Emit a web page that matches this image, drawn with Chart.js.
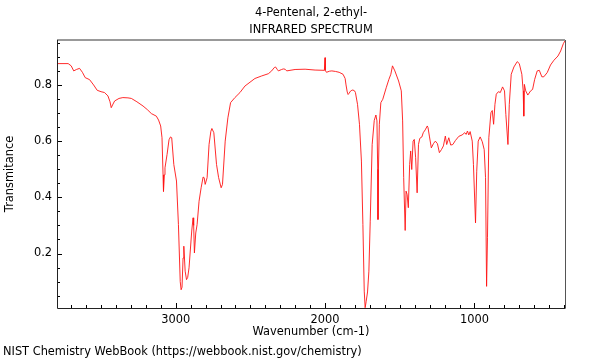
<!DOCTYPE html>
<html>
<head>
<meta charset="utf-8">
<script src="https://cdn.jsdelivr.net/npm/chart.js@4/dist/chart.umd.min.js"></script>
<style>
html,body{margin:0;padding:0;background:#fff;}
#c{display:block;}
</style>
</head>
<body>
<canvas id="c" width="600" height="360"></canvas>
<script>
const titleLines = ["4-Pentenal, 2-ethyl-", "INFRARED SPECTRUM"];
const xTitle = "Wavenumber (cm-1)";
const yTitle = "Transmitance";
const credit = "NIST Chemistry WebBook (https://webbook.nist.gov/chemistry)";
const xTickValues = [1000, 2000, 3000];
const yTickValues = [0.2, 0.4, 0.6, 0.8];

const wavenumbers = [
3795,3720,3700,3683,3665,3644,3625,3606,3577,3550,3526,3500,3477,3454,3440,3432,3420,3409,3380,3354,
3320,3297,3260,3219,3190,3163,3130,3115,3101,3092,3085,3082,3076,3072,3058,3045,3035,3027,3013,2995,
2982,2970,2964,2958,2951,2946,2937,2928,2920,2911,2893,2884,2880,2875,2866,2857,2844,2830,2817,2810,
2803,2790,2777,2765,2758,2745,2727,2713,2696,2687,2669,2651,2633,2604,2570,2537,2470,2425,2380,2358,
2340,2332,2320,2313,2291,2280,2268,2257,2201,2134,2067,2005,2001,2000,1999,1991,1970,1955,1930,1906,
1880,1866,1860,1852,1846,1840,1830,1821,1814,1803,1797,1783,1770,1757,1747,1738,1732,1725,1716,1707,
1698,1685,1671,1660,1653,1648,1646,1643,1637,1627,1614,1591,1573,1560,1549,1533,1508,1490,1481,1474,
1464,1458,1451,1443,1434,1427,1420,1411,1403,1394,1384,1375,1366,1352,1343,1330,1316,1311,1302,1289,
1275,1262,1248,1235,1221,1208,1195,1186,1172,1159,1145,1128,1105,1083,1065,1056,1047,1038,1029,1015,
1007,993,985,975,962,948,935,926,919,913,904,890,881,872,863,854,840,827,812,799,
790,776,767,754,736,714,700,683,674,670,666,657,643,624,611,597,580,566,549,536,
513,491,468,441,423,405,394
];
const transmittance = [
0.876,0.876,0.868,0.850,0.855,0.859,0.845,0.826,0.819,0.800,0.781,0.776,0.773,0.761,0.740,0.719,0.732,0.743,0.752,0.755,
0.754,0.752,0.740,0.725,0.712,0.698,0.689,0.675,0.654,0.612,0.480,0.421,0.480,0.505,0.553,0.605,0.615,0.612,0.517,0.458,
0.303,0.100,0.071,0.080,0.184,0.226,0.137,0.107,0.115,0.149,0.280,0.327,0.300,0.202,0.273,0.303,0.386,0.434,0.472,0.470,
0.446,0.470,0.588,0.635,0.645,0.630,0.517,0.470,0.434,0.446,0.600,0.683,0.737,0.755,0.773,0.796,0.823,0.832,0.840,0.850,
0.862,0.864,0.855,0.850,0.855,0.857,0.856,0.850,0.855,0.856,0.853,0.852,0.852,0.897,0.852,0.845,0.849,0.850,0.848,0.845,
0.838,0.823,0.800,0.775,0.766,0.770,0.778,0.781,0.782,0.779,0.773,0.731,0.660,0.529,0.303,0.066,0.007,0.030,0.063,0.137,
0.315,0.588,0.674,0.693,0.672,0.500,0.321,0.500,0.660,0.737,0.749,0.790,0.820,0.838,0.868,0.850,0.814,0.779,0.672,0.470,
0.282,0.422,0.410,0.363,0.517,0.565,0.499,0.600,0.606,0.541,0.416,0.588,0.610,0.615,0.630,0.640,0.654,0.648,0.618,0.576,
0.591,0.600,0.591,0.559,0.570,0.583,0.618,0.588,0.612,0.586,0.588,0.602,0.617,0.622,0.630,0.624,0.636,0.622,0.634,0.600,
0.517,0.309,0.493,0.600,0.615,0.598,0.570,0.470,0.083,0.256,0.612,0.701,0.709,0.660,0.731,0.767,0.776,0.773,0.793,0.779,
0.695,0.588,0.731,0.838,0.864,0.883,0.876,0.838,0.779,0.689,0.802,0.779,0.764,0.779,0.784,0.820,0.850,0.852,0.829,0.829,
0.844,0.871,0.888,0.903,0.921,0.947,0.957
];

const FONT = "DejaVu Sans";
const FSIZE = 11.4;

const decorPlugin = {
  id: 'decor',
  afterDraw(chart) {
    const ctx = chart.ctx;
    const a = chart.chartArea;
    const xs = chart.scales.x, ys = chart.scales.y;
    ctx.save();
    ctx.strokeStyle = '#000';
    ctx.lineWidth = 1;
    ctx.beginPath();
    for (let v = 400; v <= 3800; v += 100) {
      if (v < xs.min || v > xs.max) continue;
      const px = Math.round(xs.getPixelForValue(v)) + 0.5;
      const len = (v % 1000 === 0) ? 5 : 3;
      ctx.moveTo(px, a.bottom);
      ctx.lineTo(px, a.bottom - len);
    }
    for (let i = 1; i <= 19; i++) {
      const v = i * 0.05;
      if (v < ys.min || v > ys.max) continue;
      const py = Math.round(ys.getPixelForValue(v)) + 0.5;
      const len = (i % 4 === 0) ? 5 : 3;
      ctx.moveTo(a.left, py);
      ctx.lineTo(a.left + len, py);
    }
    ctx.stroke();
    ctx.strokeStyle = '#999';
    ctx.lineWidth = 2;
    ctx.beginPath();
    ctx.moveTo(a.left, a.top);
    ctx.lineTo(a.right, a.top);
    ctx.stroke();
    ctx.strokeStyle = '#555';
    ctx.lineWidth = 1;
    ctx.beginPath();
    ctx.moveTo(a.right + 0.5, a.top);
    ctx.lineTo(a.right + 0.5, a.bottom);
    ctx.stroke();
    ctx.strokeStyle = '#222';
    ctx.beginPath();
    ctx.moveTo(a.left + 0.5, a.top);
    ctx.lineTo(a.left + 0.5, a.bottom + 0.5);
    ctx.lineTo(a.right + 0.5, a.bottom + 0.5);
    ctx.stroke();
    ctx.fillStyle = '#000';
    ctx.font = FSIZE + 'px "' + FONT + '"';
    ctx.textAlign = 'center';
    ctx.textBaseline = 'middle';
    const cx = (a.left + a.right) / 2;
    ctx.fillText(titleLines[0], cx, 13);
    ctx.fillText(titleLines[1], cx, 30);
    ctx.textAlign = 'left';
    ctx.fillText(credit, 3, 352);
    ctx.restore();
  }
};

const points = wavenumbers.map((w, i) => ({x: w, y: transmittance[i]}));

new Chart(document.getElementById('c'), {
  type: 'line',
  data: {
    datasets: [{
      data: points,
      borderColor: 'rgba(255,20,20,0.9)',
      borderWidth: 1,
      pointRadius: 0,
      tension: 0,
      fill: false
    }]
  },
  options: {
    responsive: false,
    devicePixelRatio: 1,
    animation: false,
    events: [],
    layout: { padding: { left: 0, right: 35, top: 40, bottom: 0 } },
    plugins: { legend: { display: false }, tooltip: { enabled: false }, title: { display: false } },
    scales: {
      x: {
        type: 'linear',
        reverse: true,
        min: 394,
        max: 3795,
        grid: { display: false, drawTicks: false },
        border: { display: false },
        afterBuildTicks: s => { s.ticks = xTickValues.map(v => ({value: v})); },
        afterFit: s => { s.height = 52; },
        ticks: {
          padding: 5,
          color: '#000',
          font: { family: FONT, size: FSIZE },
          maxRotation: 0,
          autoSkip: false,
          callback: v => String(v)
        },
        title: {
          display: true,
          text: xTitle,
          color: '#000',
          font: { family: FONT, size: FSIZE },
          padding: { top: 0, bottom: 21 }
        }
      },
      y: {
        type: 'linear',
        min: 0.006,
        max: 0.96,
        grid: { display: false, drawTicks: false },
        border: { display: false },
        afterBuildTicks: s => { s.ticks = yTickValues.map(v => ({value: v})); },
        afterFit: s => { s.width = 57; },
        ticks: {
          padding: 5,
          color: '#000',
          font: { family: FONT, size: FSIZE },
          autoSkip: false,
          callback: v => Number(v).toFixed(1)
        },
        title: {
          display: true,
          text: yTitle,
          color: '#000',
          font: { family: FONT, size: FSIZE },
          padding: { top: 3, bottom: 0 }
        }
      }
    }
  },
  plugins: [decorPlugin]
});
</script>
</body>
</html>
